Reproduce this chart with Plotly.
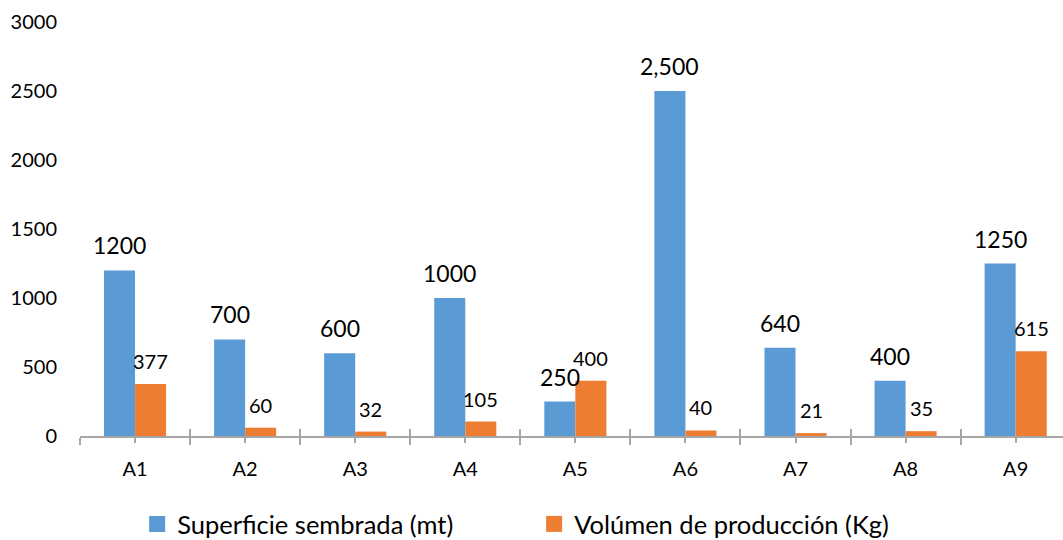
import plotly.graph_objects as go

categories = ["A1", "A2", "A3", "A4", "A5", "A6", "A7", "A8", "A9"]
superficie = [1200, 700, 600, 1000, 250, 2500, 640, 400, 1250]
superficie_labels = ["1200", "700", "600", "1000", "250", "2,500", "640", "400", "1250"]
volumen = [377, 60, 32, 105, 400, 40, 21, 35, 615]
volumen_labels = ["377", "60", "32", "105", "400", "40", "21", "35", "615"]
y_ticks = [0, 500, 1000, 1500, 2000, 2500, 3000]
series_names = ["Superficie sembrada (mt)", "Volúmen de producción (Kg)"]

BLUE = "#5B9BD5"
ORANGE = "#ED7D31"
FONT = "Lato"

fig = go.Figure()
fig.add_trace(go.Bar(x=categories, y=superficie, name=series_names[0], showlegend=False,
                     marker=dict(color=BLUE, line=dict(width=0)), hoverinfo="skip"))
fig.add_trace(go.Bar(x=categories, y=volumen, name=series_names[1], showlegend=False,
                     marker=dict(color=ORANGE, line=dict(width=0)), hoverinfo="skip"))
# legend entries with larger square swatches
for name, col in zip(series_names, [BLUE, ORANGE]):
    fig.add_trace(go.Scatter(x=[None], y=[None], mode="markers", name=name,
                             marker=dict(symbol="square", size=16, color=col),
                             hoverinfo="skip"))
# invisible helpers to carry extra tick axes
fig.add_trace(go.Scatter(x=categories, y=superficie, xaxis="x2", mode="markers",
                         marker=dict(opacity=0), showlegend=False, hoverinfo="skip"))
fig.add_trace(go.Scatter(x=categories, y=superficie, xaxis="x3", mode="markers",
                         marker=dict(opacity=0), showlegend=False, hoverinfo="skip"))

annotations = []
for c, v, t in zip(categories, superficie, superficie_labels):
    annotations.append(dict(x=c, y=v, text=t, showarrow=False, xshift=-15.5, yshift=9,
                            yanchor="bottom", font=dict(family=FONT, size=23, color="#000")))
for c, v, t in zip(categories, volumen, volumen_labels):
    annotations.append(dict(x=c, y=v, text=t, showarrow=False, xshift=15.5, yshift=9,
                            yanchor="bottom", font=dict(family=FONT, size=20, color="#000")))

xr = [-0.5, 8.43]
fig.update_layout(
    width=1063, height=540,
    margin=dict(l=80, r=0, t=22, b=104, autoexpand=False),
    paper_bgcolor="white", plot_bgcolor="white",
    barmode="group", bargap=0.436, bargroupgap=0,
    font=dict(family=FONT, size=20, color="#000"),
    annotations=annotations,
    xaxis=dict(type="category", range=xr, showgrid=False, showline=True, automargin=False,
               linecolor="#A6A6A6", linewidth=1.5, ticks="outside", tickson="boundaries",
               ticklen=7, tickcolor="#A6A6A6", tickwidth=1.5, ticklabelstandoff=14,
               tickfont=dict(family=FONT, size=20, color="#000"), zeroline=False),
    xaxis2=dict(type="category", overlaying="x", matches="x", range=xr, showgrid=False,
                showline=False, ticks="inside", tickson="boundaries", ticklen=7, automargin=False,
                tickcolor="#A6A6A6", tickwidth=1.5, showticklabels=False, anchor="y",
                side="bottom", zeroline=False),
    xaxis3=dict(type="category", overlaying="x", matches="x", range=xr, showgrid=False,
                showline=False, ticks="outside", ticklen=6, automargin=False,
                tickcolor="#A6A6A6", tickwidth=1.5, showticklabels=False, anchor="y",
                side="bottom", zeroline=False),
    yaxis=dict(range=[0, 3000], tickvals=y_ticks, showgrid=False, showline=False,
               zeroline=False, ticks="", ticklabelstandoff=22, automargin=False,
               tickfont=dict(family=FONT, size=20, color="#000")),
    legend=dict(orientation="h", xref="container", yref="container",
                x=0.129, xanchor="left", y=0.029, yanchor="middle",
                font=dict(family=FONT, size=25.5, color="#000"),
                entrywidth=352, entrywidthmode="pixels", itemclick=False),
    showlegend=True,
)

fig.write_html("out.html", config={"displayModeBar": False},
               post_script="document.body.style.margin='0px';")
